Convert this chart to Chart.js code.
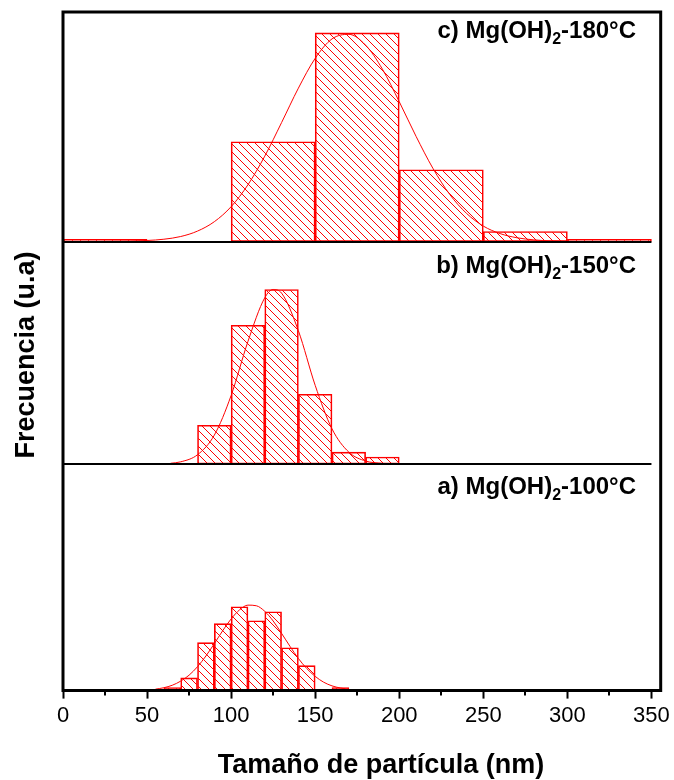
<!DOCTYPE html>
<html>
<head>
<meta charset="utf-8">
<script src="https://cdn.jsdelivr.net/npm/chart.js@4.4.1/dist/chart.umd.min.js"></script>
<style>
  html, body { margin: 0; padding: 0; background: #ffffff; }
  #wrap { width: 674px; height: 780px; position: relative; }
</style>
</head>
<body>
<div id="wrap"><canvas id="chart" width="674" height="780"></canvas></div>
<script>
// ---------------- DATA ----------------
// c) 180 °C : bins of 50 nm (bin centres, nm) and frequency (u.a.)
const binsC = [25, 75, 125, 175, 225, 275, 325];
const freqC = [1, 0, 47.8, 100, 34.4, 4.8, 1];
// fitted curve, c)
const fitCx = [0, 10, 20, 30, 40, 50, 60, 70, 80, 90, 100, 110, 120, 130, 140, 150, 160, 170, 180, 190, 200, 210, 220, 230, 240, 250, 260, 270, 280, 290, 300, 310, 320, 330, 340, 350];
const fitCy = [0, 0, 0, 0.1, 0.2, 0.5, 1.1, 2.4, 5, 9.5, 16.7, 27.2, 40.9, 57, 73.5, 87.8, 97.1, 99.3, 94.1, 82.6, 67, 50.4, 35.1, 22.6, 13.5, 7.4, 3.8, 1.8, 0.8, 0.3, 0.1, 0, 0, 0, 0, 0];

// b) 150 °C : bins of 20 nm
const binsB = [90, 110, 130, 150, 170, 190];
const freqB = [19.2, 68.6, 86.3, 34.5, 5.9, 3.5];
const fitBx = [64, 70, 80, 90, 100, 110, 120, 125, 130, 140, 150, 160, 170, 180, 190];
const fitBy = [0.4, 1.1, 4.6, 14.3, 33.9, 60.6, 82.2, 86.3, 84.5, 65.9, 38.9, 17.4, 5.9, 1.5, 0.3];

// a) 100 °C : bins of 10 nm
const binsA = [65, 75, 85, 95, 105, 115, 125, 135, 145, 155, 165];
const freqA = [1.5, 6.2, 23.3, 32.5, 40.7, 33.9, 38.3, 20.8, 12.1, 0, 1.5];
const fitAx = [55, 60, 65, 70, 75, 80, 85, 90, 95, 100, 105, 110, 115, 120, 125, 130, 135, 140, 145, 150, 155, 160, 165, 170];
const fitAy = [0.7, 1.4, 2.6, 4.6, 7.5, 11.6, 16.8, 22.8, 29.1, 34.8, 39.2, 41.5, 41.2, 38.5, 33.8, 27.8, 21.5, 15.6, 10.7, 6.9, 4.1, 2.3, 1.25, 0.6];

// texts
const panelPrefix = ['c) Mg(OH)', 'b) Mg(OH)', 'a) Mg(OH)'];
const panelSub = ['2', '2', '2'];
const panelSuffix = ['-180°C', '-150°C', '-100°C'];
const xTitle = 'Tamaño de partícula (nm)';
const yTitle = 'Frecuencia (u.a)';
const xTickStep = 50;

// ---------------- STYLE ----------------
const RED = '#ff0000';
const FONT = '"Liberation Sans", Arial, Helvetica, sans-serif';

function hatchPattern() {
  const s = 8;
  const c = document.createElement('canvas');
  c.width = s; c.height = s;
  const g = c.getContext('2d');
  g.strokeStyle = RED;
  g.lineWidth = 1;
  g.beginPath();
  g.moveTo(0, 0); g.lineTo(s, s);
  g.moveTo(-2, s - 2); g.lineTo(2, s + 2);
  g.moveTo(s - 2, -2); g.lineTo(s + 2, 2);
  g.stroke();
  return g.createPattern(c, 'repeat');
}
const hatch = hatchPattern();

const pts = (xs, ys) => xs.map((x, i) => ({ x: x, y: ys[i] }));

function barSet(xs, ys, xId, yId) {
  return {
    type: 'bar', data: pts(xs, ys), xAxisID: xId, yAxisID: yId,
    backgroundColor: hatch, borderColor: RED, borderWidth: 1, borderSkipped: false,
    barPercentage: 1, categoryPercentage: 1, grouped: false, order: 2
  };
}
function fitSet(xs, ys, xId, yId) {
  return {
    type: 'line', data: pts(xs, ys), xAxisID: xId, yAxisID: yId,
    borderColor: RED, borderWidth: 1, pointRadius: 0, fill: false,
    cubicInterpolationMode: 'monotone', order: 1
  };
}

const hiddenX = {
  type: 'linear', display: false, min: 0, max: 355.5, offset: false,
  ticks: { stepSize: xTickStep, includeBounds: false }, grid: { offset: false }
};
function yPanel(weightOrder, stackW) {
  return {
    type: 'linear', display: false, position: 'left', stack: 'panels',
    stackWeight: stackW, weight: weightOrder, min: 0, max: 110, offset: false
  };
}

const decor = {
  id: 'decor',
  afterDatasetsDraw(chart) {
    const { ctx, chartArea: a, scales: s } = chart;
    const xs = s.x;
    const xEnd = xs.getPixelForValue(xs.ticks[xs.ticks.length - 1].value);
    ctx.save();
    ctx.strokeStyle = '#000';
    // panel separators
    ctx.lineWidth = 2;
    [s.yc.bottom, s.yb.bottom].forEach(y => {
      const yy = Math.round(y);
      ctx.beginPath(); ctx.moveTo(a.left, yy); ctx.lineTo(xEnd, yy); ctx.stroke();
    });
    // frame
    ctx.lineWidth = 3;
    ctx.beginPath();
    ctx.moveTo(a.left, a.bottom);
    ctx.lineTo(a.left, a.top);
    ctx.lineTo(a.right, a.top);
    ctx.lineTo(a.right, a.bottom);
    ctx.closePath();
    ctx.stroke();
    // minor ticks (half way between major ticks)
    ctx.lineWidth = 2;
    for (let i = 0; i < xs.ticks.length - 1; i++) {
      const v = (xs.ticks[i].value + xs.ticks[i + 1].value) / 2;
      const px = Math.round(xs.getPixelForValue(v));
      ctx.beginPath(); ctx.moveTo(px, a.bottom); ctx.lineTo(px, a.bottom + 5); ctx.stroke();
    }
    // panel labels
    ctx.fillStyle = '#000';
    ctx.textBaseline = 'alphabetic';
    const scalesTop = [s.yc, s.yb, s.ya];
    const offs = [26, 31, 30];
    const rightX = 636;
    for (let i = 0; i < 3; i++) {
      const base = scalesTop[i].top + offs[i];
      ctx.font = 'bold 24px ' + FONT;
      const w1 = ctx.measureText(panelPrefix[i]).width;
      const w3 = ctx.measureText(panelSuffix[i]).width;
      ctx.font = 'bold 16px ' + FONT;
      const w2 = ctx.measureText(panelSub[i]).width;
      let x0 = rightX - (w1 + w2 + w3);
      ctx.font = 'bold 24px ' + FONT;
      ctx.textAlign = 'left';
      ctx.fillText(panelPrefix[i], x0, base);
      ctx.font = 'bold 16px ' + FONT;
      ctx.fillText(panelSub[i], x0 + w1, base + 6);
      ctx.font = 'bold 24px ' + FONT;
      ctx.fillText(panelSuffix[i], x0 + w1 + w2, base);
    }
    // axis titles
    ctx.font = 'bold 27px ' + FONT;
    ctx.textAlign = 'center';
    ctx.fillText(xTitle, 381, 773);
    ctx.save();
    ctx.translate(34, 355);
    ctx.rotate(-Math.PI / 2);
    ctx.fillText(yTitle, 0, 0);
    ctx.restore();
    ctx.restore();
  }
};

new Chart(document.getElementById('chart'), {
  type: 'bar',
  data: {
    datasets: [
      fitSet(fitCx, fitCy, 'x', 'yc'),
      fitSet(fitBx, fitBy, 'x2', 'yb'),
      fitSet(fitAx, fitAy, 'x3', 'ya'),
      barSet(binsC, freqC, 'x', 'yc'),
      barSet(binsB, freqB, 'x2', 'yb'),
      barSet(binsA, freqA, 'x3', 'ya')
    ]
  },
  options: {
    responsive: false,
    devicePixelRatio: 1,
    animation: false,
    layout: { padding: { left: 63, right: 13, top: 12, bottom: 47 } },
    plugins: { legend: { display: false }, tooltip: { enabled: false } },
    scales: {
      x: {
        type: 'linear', position: 'bottom', min: 0, max: 355.5, offset: false,
        ticks: {
          stepSize: xTickStep, includeBounds: false, autoSkip: false, maxRotation: 0,
          color: '#000', padding: 4, font: { family: FONT, size: 22 }
        },
        grid: { display: true, drawOnChartArea: false, drawTicks: true, tickLength: 8, tickWidth: 2, tickColor: '#000', offset: false },
        border: { display: true, color: '#000', width: 3 }
      },
      x2: hiddenX,
      x3: hiddenX,
      ya: yPanel(1, 227),
      yb: yPanel(2, 223),
      yc: yPanel(3, 230)
    }
  },
  plugins: [decor]
});
</script>
</body>
</html>
